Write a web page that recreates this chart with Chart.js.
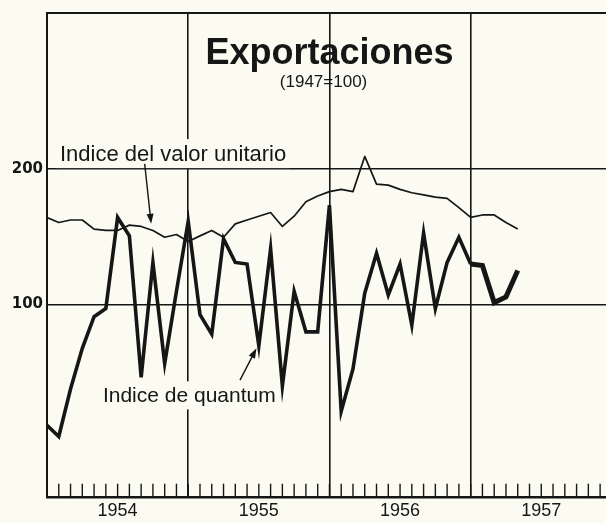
<!DOCTYPE html>
<html>
<head>
<meta charset="utf-8">
<script src="https://cdn.jsdelivr.net/npm/chart.js@4.4.1/dist/chart.umd.min.js"></script>
<style>
  html, body { margin: 0; padding: 0; background: #fbfbf2; }
  canvas { display: block; }
</style>
</head>
<body>
<canvas id="myChart" width="606" height="523"></canvas>
<script>
// Indices mensuales, enero 1954 - mayo 1957 (1947 = 100)
const years = ['1954', '1955', '1956', '1957'];
const valorUnitario = [156, 152, 154, 154, 147, 146, 146, 150, 149, 146, 141, 143, 138, 142, 146, 141,
    151, 154, 157, 160, 149, 157, 169, 174, 178, 180, 178, 213, 185, 184, 180, 177, 175, 173, 172, 164,
    156, 158, 158, 152, 147];
const quantum = [54, 51, 65, 80, 94, 98, 156, 142, 69, 124, 74, 107, 153, 95, 86, 140,
    124, 123, 81, 133, 66, 107, 87, 87, 166, 58, 72, 106, 130, 105, 123, 90, 144, 98, 124, 141,
    123, 122, 101, 104, 119];
const yTicks = [100, 200];

const ink = '#161616';
const paper = '#fbfbf2';
const font = '"Liberation Sans", Arial, sans-serif';

// text and arrows, placed in data units (month index, index value)
const notes = [
    { text: 'Indice del valor unitario', x: 1.1, y: 208, size: 22 },
    { text: 'Indice de quantum', x: 4.75, y: 60.7, size: 21 }
];
const arrows = [
    { from: [8.3, 205], to: [8.85, 151] },
    { from: [16.4, 68], to: [17.8, 80] }
];

function toPoints(values) {
    return values.map((v, i) => ({ x: i, y: v }));
}

function arrow(ctx, x0, y0, x1, y1) {
    const a = Math.atan2(y1 - y0, x1 - x0);
    ctx.beginPath();
    ctx.moveTo(x0, y0);
    ctx.lineTo(x1 - 6 * Math.cos(a), y1 - 6 * Math.sin(a));
    ctx.stroke();
    ctx.beginPath();
    ctx.moveTo(x1, y1);
    ctx.lineTo(x1 - 10 * Math.cos(a) + 3.5 * Math.sin(a), y1 - 10 * Math.sin(a) - 3.5 * Math.cos(a));
    ctx.lineTo(x1 - 10 * Math.cos(a) - 3.5 * Math.sin(a), y1 - 10 * Math.sin(a) + 3.5 * Math.cos(a));
    ctx.closePath();
    ctx.fill();
}

const decor = {
    id: 'decor',
    beforeDraw(chart) {
        const ctx = chart.ctx;
        ctx.save();
        ctx.fillStyle = paper;
        ctx.fillRect(0, 0, chart.width, chart.height);
        ctx.restore();
    },
    beforeDatasetsDraw(chart) {
        const { ctx, chartArea } = chart;
        const x = chart.scales.x;
        const y = chart.scales.y;
        ctx.save();
        ctx.strokeStyle = ink;
        ctx.fillStyle = ink;

        // top border
        ctx.lineWidth = 2;
        ctx.beginPath();
        ctx.moveTo(chartArea.left - 1, chartArea.top);
        ctx.lineTo(chartArea.right, chartArea.top);
        ctx.stroke();

        // month ticks along the base
        ctx.lineWidth = 1.4;
        for (let m = 1; m < x.max; m++) {
            const px = x.getPixelForValue(m);
            ctx.beginPath();
            ctx.moveTo(px, chartArea.bottom);
            ctx.lineTo(px, chartArea.bottom - 13);
            ctx.stroke();
        }

        // title
        ctx.textAlign = 'center';
        ctx.textBaseline = 'alphabetic';
        ctx.font = 'bold 36px ' + font;
        ctx.fillText('Exportaciones', x.getPixelForValue(24), y.getPixelForValue(342));
        ctx.font = '17px ' + font;
        ctx.fillText('(1947=100)', x.getPixelForValue(23.5), y.getPixelForValue(303));

        // series labels, on a paper patch that breaks the grid
        ctx.textAlign = 'left';
        notes.forEach(n => {
            ctx.font = n.size + 'px ' + font;
            const px = x.getPixelForValue(n.x);
            const py = y.getPixelForValue(n.y);
            const w = ctx.measureText(n.text).width;
            ctx.fillStyle = paper;
            ctx.fillRect(px - 3, py - n.size, w + 6, n.size + 7);
            ctx.fillStyle = ink;
            ctx.fillText(n.text, px, py);
        });

        ctx.lineWidth = 1.4;
        arrows.forEach(a => {
            arrow(ctx, x.getPixelForValue(a.from[0]), y.getPixelForValue(a.from[1]),
                x.getPixelForValue(a.to[0]), y.getPixelForValue(a.to[1]));
        });
        ctx.restore();
    }
};

new Chart(document.getElementById('myChart'), {
    type: 'line',
    data: {
        datasets: [{
            label: 'Indice del valor unitario',
            data: toPoints(valorUnitario),
            borderColor: ink,
            borderWidth: 1.7,
            borderJoinStyle: 'round',
            pointRadius: 0,
            tension: 0
        }, {
            label: 'Indice de quantum',
            data: toPoints(quantum),
            borderColor: ink,
            borderWidth: 3.6,
            borderJoinStyle: 'miter',
            pointRadius: 0,
            tension: 0,
            segment: {
                borderWidth: ctx => ctx.p0DataIndex >= 36 ? 5 : 3.6
            }
        }]
    },
    options: {
        responsive: false,
        animation: false,
        layout: { padding: { top: 11.6, left: 0, right: 0, bottom: 0 } },
        plugins: {
            legend: { display: false },
            tooltip: { enabled: false }
        },
        scales: {
            x: {
                type: 'linear',
                min: 0,
                max: 47.5,
                afterBuildTicks: scale => {
                    scale.ticks = [0, 6, 12, 18, 24, 30, 36, 42].map(v => ({ value: v }));
                },
                afterFit: scale => { scale.height = 26.3; },
                ticks: {
                    autoSkip: false,
                    maxRotation: 0,
                    padding: 3.5,
                    color: ink,
                    font: { family: font, size: 18 },
                    callback: v => v % 12 === 6 ? years[(v - 6) / 12] : ''
                },
                grid: {
                    drawTicks: false,
                    color: c => c.tick && c.tick.value % 12 === 0 ? ink : 'rgba(0,0,0,0)',
                    lineWidth: 1.6
                },
                border: { display: true, color: ink, width: 2.4 }
            },
            y: {
                type: 'logarithmic',
                min: 37.5,
                max: 443,
                afterBuildTicks: scale => {
                    scale.ticks = yTicks.map(v => ({ value: v }));
                },
                afterFit: scale => { scale.width = 47; },
                ticks: {
                    padding: 4,
                    color: ink,
                    font: { family: '"DejaVu Sans", sans-serif', size: 15, weight: 'bold' },
                    callback: v => String(v)
                },
                grid: {
                    drawTicks: false,
                    color: ink,
                    lineWidth: 1.6
                },
                border: { display: true, color: ink, width: 2 }
            }
        }
    },
    plugins: [decor]
});
</script>
</body>
</html>
